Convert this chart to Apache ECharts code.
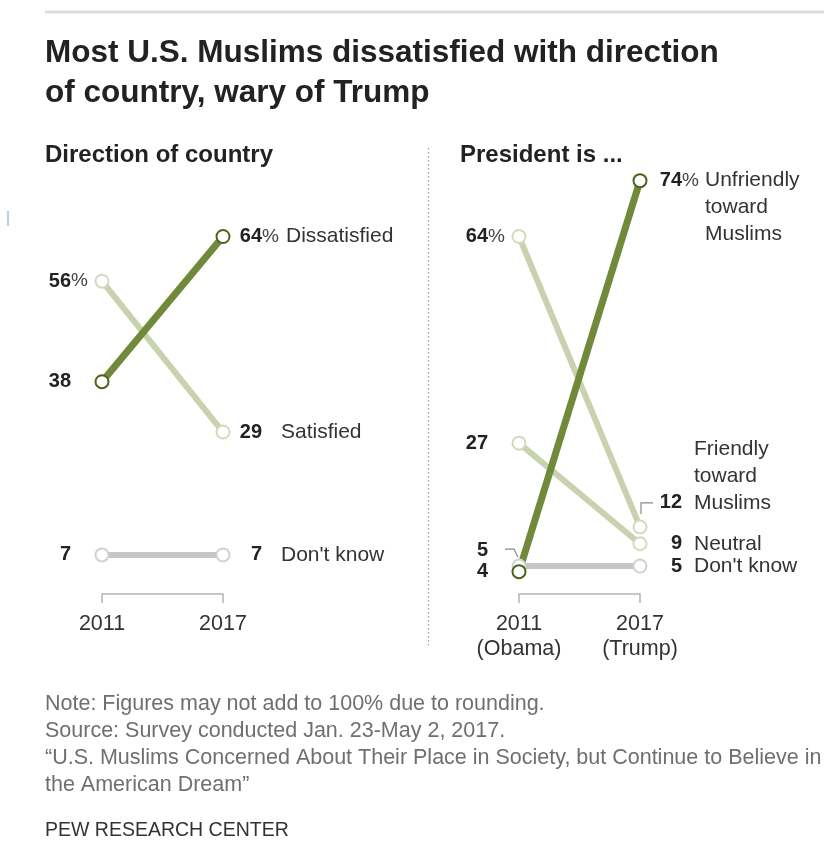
<!DOCTYPE html>
<html><head><meta charset="utf-8">
<script src="https://cdn.jsdelivr.net/npm/echarts@6/dist/echarts.min.js"></script>
<style>html,body{margin:0;padding:0;background:#fff}#c{width:824px;height:857px}</style>
</head><body><div id="c"></div>
<script>
// ---- data ----
const titleLines = ['Most U.S. Muslims dissatisfied with direction', 'of country, wary of Trump'];
const leftTitle = 'Direction of country';
const rightTitle = 'President is ...';
const leftYears = ['2011', '2017'];
const rightYears = ['2011\n(Obama)', '2017\n(Trump)'];
const dissatisfied = [38, 64];
const satisfied = [56, 29];
const dirDontKnow = [7, 7];
const unfriendly = [4, 74];
const friendlyPres = [64, 12];
const neutralPres = [27, 9];
const presDontKnow = [5, 5];
const leftNames = ['Dissatisfied', 'Satisfied', "Don't know"];
const rightNames = ['Unfriendly\ntoward\nMuslims', 'Friendly\ntoward\nMuslims', 'Neutral', "Don't know"];
const notes = [
  'Note: Figures may not add to 100% due to rounding.',
  'Source: Survey conducted Jan. 23-May 2, 2017.',
  '\u201cU.S. Muslims Concerned About Their Place in Society, but Continue to Believe in',
  'the American Dream\u201d'
];
const sourceLabel = 'PEW RESEARCH CENTER';

// ---- styles ----
const FONT = '"Liberation Sans", Arial, sans-serif';
const DARK = '#71893a', DARK_B = '#4f621c';
const LIGHT = '#c9d2ae', LIGHT_B = '#d3dac0';
const GRAY = '#c6c6c6', GRAY_B = '#d2d2d2';

const rich = {
  n: {fontFamily: FONT, fontWeight: 'bold', fontSize: 20, color: '#222'},
  p: {fontFamily: FONT, fontWeight: 'normal', fontSize: 19, color: '#444'},
  h: {fontFamily: FONT, fontWeight: 'normal', fontSize: 19, color: 'rgba(0,0,0,0)'}
};

function makeSeries(panel, name, data, color, border, lw, pct, dys, endName, endDist, endDy) {
  const rightDist = panel === 0 ? 48.5 : 51.5;
  return {
    type: 'line', name: name, xAxisIndex: panel, yAxisIndex: panel,
    data: data.map((v, i) => ({
      value: v,
      label: {
        show: true,
        position: i === 0 ? 'left' : 'right',
        align: 'right', verticalAlign: 'middle',
        distance: i === 0 ? 6.5 : rightDist,
        offset: [0, dys[i] || 0],
        formatter: () => '{n|' + v + '}' + (pct === i ? '{p|%}' : '{h|%}'),
        rich: rich
      }
    })),
    symbol: 'circle', symbolSize: 13, showSymbol: true,
    itemStyle: {color: '#fff', borderColor: border, borderWidth: 2},
    lineStyle: {color: color, width: lw},
    emphasis: {disabled: true},
    endLabel: {
      show: true, formatter: endName, distance: endDist, offset: [0, endDy || 0],
      fontFamily: FONT, fontSize: 21, color: '#333', lineHeight: 27,
      align: 'left', verticalAlign: 'middle'
    },
    animation: false
  };
}

const axisBase = (cats, grid) => ({
  type: 'category', gridIndex: grid, data: cats, boundaryGap: false,
  axisLine: {lineStyle: {color: '#b4b4b4', width: 1.5}},
  axisTick: {show: true, length: 9, lineStyle: {color: '#b4b4b4', width: 1.5}},
  axisLabel: {fontFamily: FONT, fontSize: 21.5, color: '#333', margin: 18, lineHeight: 25, interval: 0}
});

const chart = echarts.init(document.getElementById('c'), null, {renderer: 'canvas'});
chart.setOption({
  animation: false,
  backgroundColor: '#fff',
  grid: [
    {left: 102, width: 121, top: 35.4, height: 558.6},
    {left: 519, width: 121, top: 35.4, height: 558.6}
  ],
  xAxis: [axisBase(leftYears, 0), axisBase(rightYears, 1)],
  yAxis: [
    {type: 'value', gridIndex: 0, min: 0, max: 100, show: false},
    {type: 'value', gridIndex: 1, min: 0, max: 100, show: false}
  ],
  series: [
    makeSeries(0, leftNames[2], dirDontKnow, GRAY, GRAY_B, 6, -1, [], leftNames[2], 58),
    makeSeries(0, leftNames[1], satisfied, LIGHT, LIGHT_B, 6, 0, [], leftNames[1], 58),
    makeSeries(0, leftNames[0], dissatisfied, DARK, DARK_B, 7, 1, [], leftNames[0], 63),
    makeSeries(1, rightNames[3], presDontKnow, GRAY, GRAY_B, 6, -1, [-16, 0], rightNames[3], 54),
    makeSeries(1, rightNames[2], neutralPres, LIGHT, LIGHT_B, 6, -1, [], rightNames[2], 54),
    makeSeries(1, rightNames[1], friendlyPres, LIGHT, LIGHT_B, 6, 0, [0, -24], rightNames[1], 54, -51),
    makeSeries(1, rightNames[0], unfriendly, DARK, DARK_B, 7, 1, [], rightNames[0], 65, 27)
  ]
});

const p12 = chart.convertToPixel({xAxisIndex: 1, yAxisIndex: 1}, [1, friendlyPres[1]]);
const p5 = chart.convertToPixel({xAxisIndex: 1, yAxisIndex: 1}, [0, presDontKnow[0]]);

const txt = (x, y, t, size, weight, color) => ({
  type: 'text', x: x, y: y, silent: true,
  style: {text: t, fontFamily: FONT, fontSize: size, fontWeight: weight, fill: color, textVerticalAlign: 'middle'}
});

const graphics = [
  {type: 'line', shape: {x1: 45, y1: 12, x2: 824, y2: 12}, style: {stroke: '#ddd', lineWidth: 3}, silent: true},
  txt(45, 53, titleLines[0], 31.5, 'bold', '#222'),
  txt(45, 93, titleLines[1], 31.5, 'bold', '#222'),
  txt(45, 155, leftTitle, 24, 'bold', '#222'),
  txt(460, 155, rightTitle, 24, 'bold', '#222'),
  {type: 'line', shape: {x1: 428.5, y1: 148, x2: 428.5, y2: 645}, style: {stroke: '#999', lineWidth: 1.2, lineDash: [1.5, 2.5]}, silent: true},
  {type: 'line', shape: {x1: 8, y1: 211, x2: 8, y2: 226}, style: {stroke: '#6aa0c8', lineWidth: 1}, silent: true},
  {type: 'polyline', shape: {points: [[p12[0] + 1, p12[1] - 13], [p12[0] + 1, p12[1] - 24], [p12[0] + 13, p12[1] - 24]]}, style: {stroke: '#888', lineWidth: 1.2, fill: null}, silent: true},
  {type: 'polyline', shape: {points: [[p5[0] - 14, p5[1] - 17], [p5[0] - 5, p5[1] - 17], [p5[0] - 1, p5[1] - 9]]}, style: {stroke: '#888', lineWidth: 1.2, fill: null}, silent: true}
];
notes.forEach((n, i) => graphics.push(txt(45, 704 + i * 27, n, 21.5, 'normal', '#6f6f6f')));
graphics.push(txt(45, 831, sourceLabel, 19.5, 'normal', '#333'));
chart.setOption({graphic: graphics});
</script>
</body></html>
